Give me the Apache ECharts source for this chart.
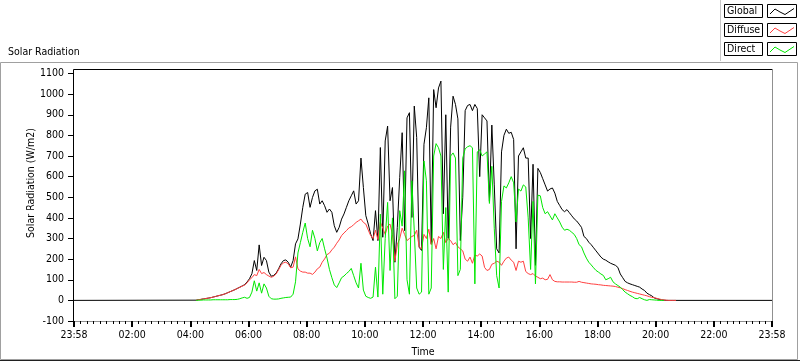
<!DOCTYPE html>
<html><head><meta charset="utf-8">
<script src="https://cdn.jsdelivr.net/npm/echarts@6/dist/echarts.min.js"></script>
<style>html,body{margin:0;padding:0;background:#fff}#c{width:800px;height:361px}</style>
</head><body><div id="c"></div>
<script>
// time grid (minutes after midnight) for the daytime samples
const startMin = 250, stepMin = 5;
const seriesNames = ['Global', 'Diffuse', 'Direct'];
const xTickLabels = ['23:58','02:00','04:00','06:00','08:00','10:00','12:00','14:00','16:00','18:00','20:00','22:00','23:58'];

const globalVals = [
1,3,5,7,9,11,13,16,19,22,25,28,32,37,42,47,52,58,64,70,76,
89,105,129,193,145,269,169,209,193,137,117,121,132,153,177,
193,196,185,161,193,274,298,370,451,515,523,451,499,531,539,467,483,459,427,443,427,362,330,354,394,
419,451,483,507,531,467,483,690,547,411,370,322,
290,435,290,741,306,773,845,483,547,185,354,596,813,338,885,910,402,942,789,258,242,757,837,982,274,1022,934,1030,
1063,420,900,300,840,990,950,880,290,500,920,945,950,920,950,930,600,900,885,870,480,850,560,250,230,720,800,830,810,
815,780,250,700,720,740,690,690,300,660,170,640,620,590,560,530,540,545,520,480,460,440,430,440,425,410,395,385,370,
354,310,300,282,270,255,240,225,210,200,195,187,180,175,170,160,128,110,92,85,80,76,72,68,64,55,48,35,28,22,12,8,5,2,1,0,0,0,0,0
];
const diffuseVals = [
1,3,5,7,9,11,13,16,19,22,25,28,32,37,42,47,52,58,63,69,74,
85,100,110,125,120,150,130,135,125,118,112,117,128,148,170,
182,185,177,158,161,211,153,142,137,137,132,132,126,137,153,161,185,201,222,229,245,258,277,293,314,
327,338,351,357,367,378,386,394,378,370,341,314,
300,340,295,380,350,320,360,370,320,190,270,300,350,320,290,300,310,315,340,260,250,320,300,345,270,300,250,310,
300,330,280,300,290,270,280,260,250,240,200,190,210,180,220,215,225,215,160,145,150,175,180,190,185,170,190,205,210,
195,185,145,190,185,190,140,130,125,130,118,112,105,108,100,102,125,100,92,90,90,89,89,89,89,89,88,88,92,
88,86,84,82,80,79,78,76,75,73,72,71,70,69,67,64,61,57,52,48,44,40,37,34,31,28,25,22,18,15,13,10,7,4,2,1,0,0,0,0
];
const directVals = [
0,1,1,2,2,2,2,3,3,3,3,3,3,3,4,4,4,5,8,12,15,
10,14,40,95,45,85,35,80,60,20,8,6,6,7,10,
12,14,15,16,30,90,230,280,330,375,300,260,340,300,240,280,300,250,205,150,110,75,62,85,110,
118,130,140,155,120,85,60,180,50,20,14,10,
16,161,16,418,30,300,475,145,400,8,20,435,360,628,100,30,580,338,60,30,40,676,580,30,60,700,760,740,
700,150,450,40,700,715,690,120,150,690,735,745,750,740,80,720,730,700,710,720,470,650,350,120,60,480,555,545,570,
600,570,380,540,530,560,550,400,150,480,80,510,507,450,420,430,410,390,420,400,380,355,340,345,340,330,320,300,270,
260,230,205,185,172,158,145,137,128,121,100,105,112,90,80,72,64,52,40,32,24,18,10,8,14,8,3,0,4,3,2,1,0,0,0
];

const dayMin = -2, dayMax = 1438;
function toPairs(vals) { return vals.map((v, i) => [startMin + i * stepMin, v]); }
const globalData = [[dayMin, 0]].concat(toPairs(globalVals)).concat([[dayMax, 0]]);
const diffuseData = toPairs(diffuseVals);
const directData = toPairs(directVals);

const FONT = "'DejaVu Sans Condensed','Liberation Sans',sans-serif";
const colors = ['#000000', '#ff4040', '#00e800'];

const gl = [];
// outer panel frame
gl.push({type:'rect', shape:{x:0.5,y:62.5,width:797,height:297}, style:{fill:'none',stroke:'#a0a0a0',lineWidth:1}, silent:true});
gl.push({type:'line', shape:{x1:0,y1:360.5,x2:800,y2:360.5}, style:{stroke:'#202020',lineWidth:1}, silent:true});
// legend panel edge
gl.push({type:'line', shape:{x1:720.5,y1:0,x2:720.5,y2:61}, style:{stroke:'#c8c8c8',lineWidth:1}, silent:true});
// plot borders
gl.push({type:'line', shape:{x1:73.5,y1:69.5,x2:772.5,y2:69.5}, style:{stroke:'#000',lineWidth:1}, silent:true});
gl.push({type:'line', shape:{x1:73.5,y1:69.5,x2:73.5,y2:322}, style:{stroke:'#000',lineWidth:1}, silent:true});
gl.push({type:'line', shape:{x1:772.5,y1:69.5,x2:772.5,y2:322}, style:{stroke:'#909090',lineWidth:1}, silent:true});
gl.push({type:'line', shape:{x1:73.5,y1:321.5,x2:772.5,y2:321.5}, style:{stroke:'#909090',lineWidth:1}, silent:true});
// y axis title
gl.push({type:'text', x:31, y:183, rotation:Math.PI/2, style:{text:'Solar Radiation (W/m2)', font:'10.5px ' + FONT, fill:'#000', align:'center', verticalAlign:'middle'}, silent:true});
// legend entries
const legTop = [4, 23, 42];
seriesNames.forEach((nm, k) => {
  const y0 = legTop[k];
  gl.push({type:'rect', shape:{x:724.5,y:y0+0.5,width:38,height:13}, style:{fill:'#fff',stroke:'#000',lineWidth:1}, silent:true});
  gl.push({type:'text', x:727, y:y0+7.5, style:{text:nm, font:'10.5px ' + FONT, fill:'#000', align:'left', verticalAlign:'middle'}, silent:true});
  gl.push({type:'rect', shape:{x:767.5,y:y0+0.5,width:29,height:13}, style:{fill:'#fff',stroke:'#000',lineWidth:1}, silent:true});
  gl.push({type:'polyline', shape:{points:[[770,y0+10],[775,y0+5],[780,y0+8],[785,y0+10.5],[794,y0+4.5]]}, style:{stroke:colors[k],lineWidth:1,fill:'none'}, silent:true});
});

const chart = echarts.init(document.getElementById('c'), null, {renderer:'canvas'});
chart.setOption({
  animation: false,
  backgroundColor: '#fff',
  title: {text:'Solar Radiation', left:3, top:42, textStyle:{fontSize:10.5, fontWeight:'normal', color:'#000', fontFamily:FONT}},
  grid: {left:74, right:28, top:73.5, bottom:40, containLabel:false, outerBoundsMode:'none'},
  xAxis: {
    type:'value', min:dayMin, max:dayMax, interval:120,
    name:'Time', nameLocation:'middle', nameGap:26,
    nameTextStyle:{fontSize:10.5, color:'#000', fontFamily:FONT},
    axisLine:{show:false, onZero:false},
    axisTick:{show:true, length:6, lineStyle:{color:'#000', width:2}},
    minorTick:{show:true, splitNumber:9, length:3, lineStyle:{color:'#000', width:1}},
    splitLine:{show:false}, minorSplitLine:{show:false},
    axisLabel:{fontSize:10.5, color:'#000', fontFamily:FONT, margin:9, showMinLabel:true, showMaxLabel:true,
      formatter:(v, idx) => xTickLabels[idx]}
  },
  yAxis: {
    type:'value', min:-100, max:1100, interval:100,
    axisLine:{show:false, onZero:false},
    axisTick:{show:true, length:6, lineStyle:{color:'#000', width:1}},
    splitLine:{show:false},
    axisLabel:{fontSize:10.5, color:'#000', fontFamily:FONT, margin:10, formatter:(v) => String(v)}
  },
  graphic: gl,
  series: [
    {type:'line', name:seriesNames[0], data:globalData, showSymbol:false, symbol:'none', lineStyle:{width:1, color:colors[0]}, itemStyle:{color:colors[0]}, z:2},
    {type:'line', name:seriesNames[1], data:diffuseData, showSymbol:false, symbol:'none', lineStyle:{width:1, color:colors[1]}, itemStyle:{color:colors[1]}, z:3},
    {type:'line', name:seriesNames[2], data:directData, showSymbol:false, symbol:'none', lineStyle:{width:1, color:colors[2]}, itemStyle:{color:colors[2]}, z:4}
  ]
});
</script></body></html>
